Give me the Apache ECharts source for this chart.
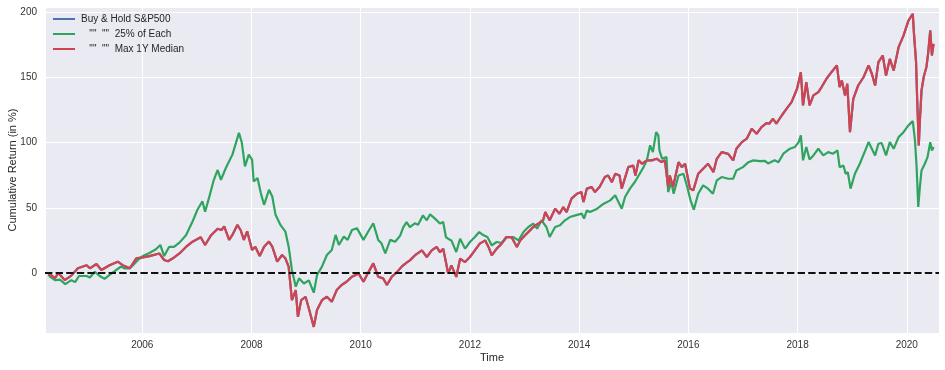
<!DOCTYPE html>
<html>
<head>
<meta charset="utf-8">
<script src="https://cdn.jsdelivr.net/npm/echarts@6/dist/echarts.min.js"></script>
<style>html,body{margin:0;padding:0;background:#fff;}#c{width:945px;height:370px;}</style>
</head>
<body>
<div id="c"></div>
<script>
// ---- data (decimal years, cumulative return in %) ----
const seriesNames = ["Buy & Hold S&P500", '   ""  ""  25% of Each', '   ""  ""  Max 1Y Median'];
const xTickYears = [2006, 2008, 2010, 2012, 2014, 2016, 2018, 2020];
const yTickValues = [0, 50, 100, 150, 200];

const eachTime = [2004.28,2004.31,2004.40,2004.49,2004.59,2004.70,2004.77,2004.84,2004.98,2005.04,2005.13,2005.22,2005.31,2005.40,2005.52,2005.61,2005.67,2005.77,2005.83,2005.92,2006.01,2006.13,2006.25,2006.33,2006.40,2006.49,2006.58,2006.68,2006.80,2006.92,2007.01,2007.10,2007.15,2007.22,2007.31,2007.38,2007.44,2007.53,2007.65,2007.77,2007.82,2007.88,2007.95,2008.01,2008.04,2008.11,2008.17,2008.23,2008.32,2008.38,2008.44,2008.53,2008.62,2008.68,2008.74,2008.81,2008.87,2008.96,2009.05,2009.14,2009.20,2009.29,2009.38,2009.47,2009.54,2009.60,2009.69,2009.76,2009.84,2009.93,2010.05,2010.14,2010.23,2010.32,2010.38,2010.45,2010.54,2010.63,2010.72,2010.78,2010.84,2010.90,2010.99,2011.05,2011.14,2011.21,2011.27,2011.36,2011.45,2011.51,2011.56,2011.60,2011.66,2011.75,2011.82,2011.91,2012.00,2012.09,2012.17,2012.25,2012.32,2012.40,2012.49,2012.58,2012.67,2012.79,2012.89,2012.98,2013.07,2013.16,2013.23,2013.31,2013.40,2013.46,2013.56,2013.65,2013.74,2013.83,2013.93,2014.05,2014.09,2014.14,2014.20,2014.33,2014.45,2014.57,2014.66,2014.78,2014.84,2014.93,2015.02,2015.09,2015.18,2015.24,2015.30,2015.35,2015.41,2015.45,2015.47,2015.52,2015.60,2015.63,2015.69,2015.73,2015.82,2015.91,2015.98,2016.04,2016.10,2016.18,2016.27,2016.36,2016.45,2016.52,2016.61,2016.73,2016.82,2016.88,2017.00,2017.10,2017.19,2017.31,2017.40,2017.46,2017.58,2017.65,2017.74,2017.86,2017.95,2018.02,2018.06,2018.10,2018.16,2018.22,2018.29,2018.38,2018.47,2018.56,2018.65,2018.73,2018.77,2018.84,2018.88,2018.92,2018.97,2019.05,2019.14,2019.24,2019.30,2019.36,2019.42,2019.48,2019.54,2019.62,2019.69,2019.76,2019.85,2019.94,2020.03,2020.11,2020.15,2020.18,2020.21,2020.24,2020.27,2020.33,2020.38,2020.43,2020.46,2020.49];
const eachValue = [-1,-2.8,-5.4,-5,-8.5,-5.5,-7,-2.3,-2.3,-3.5,1,-2.3,-4.5,-1.5,2.3,4.9,3.6,3.6,6,10,13,15.4,18.2,21.5,13,20,20,23.3,29,39.5,48.5,55,47,57.4,71.5,79,71.5,80.5,90.8,107.5,100.5,81.8,90.8,87,70.2,72.8,61.3,52.3,63.8,58.7,44.6,36.9,31.8,20.2,2.3,-10.5,-4.1,-8,-5.6,-15.1,-1.5,4.9,13.8,17.7,29.2,21.5,27.9,25.4,33,34.4,25.4,32,38.2,25.4,22.8,15.1,25.4,24,28.5,35.2,39.1,35.2,38.1,37,44.2,40.4,45,41.7,37.9,39.1,27.6,26.3,25,16.1,26.3,18.7,23.8,27.6,31.4,28.9,27.6,21.2,23.8,23,27.6,27.6,25,31.4,35.3,37.9,34,40.4,35.3,27.6,35.3,36.6,40.4,42.9,44.2,45.5,41.7,48,46.8,49.3,53.2,55.7,59.6,49.3,58.3,64.7,69.8,74.8,81.2,86.4,97.9,92.7,108,105.5,94,87.6,89,62.1,69.8,60.8,74.8,76.1,66,55.7,48.6,60.8,67.2,64.7,60.8,71,73.6,72.3,72.3,78.7,81.2,85,86.4,85.8,86,84,86.4,85,91.5,95.3,96.6,100.4,105.5,86.4,96.6,87,90.2,95.3,90.2,92.7,91.5,94,81.2,82.5,76.1,77.4,64.7,76.1,83.8,94,100.4,95.3,90.2,99.1,99.7,90.2,100.4,95.3,104.2,108,113.2,116.5,101.7,81.2,50.6,66,78.7,83.8,88.9,100.4,94,96.6];

const medianTime = [2004.28,2004.31,2004.40,2004.46,2004.58,2004.70,2004.82,2004.98,2005.04,2005.16,2005.25,2005.40,2005.55,2005.64,2005.77,2005.89,2006.01,2006.13,2006.31,2006.40,2006.47,2006.56,2006.68,2006.80,2006.92,2007.07,2007.15,2007.26,2007.38,2007.45,2007.50,2007.59,2007.65,2007.74,2007.80,2007.86,2007.92,2008.01,2008.07,2008.15,2008.23,2008.32,2008.38,2008.47,2008.56,2008.62,2008.68,2008.74,2008.81,2008.85,2008.91,2008.99,2009.05,2009.14,2009.20,2009.29,2009.38,2009.47,2009.56,2009.65,2009.74,2009.84,2009.96,2010.05,2010.14,2010.23,2010.32,2010.41,2010.48,2010.57,2010.66,2010.75,2010.84,2010.90,2010.99,2011.12,2011.21,2011.30,2011.39,2011.45,2011.51,2011.56,2011.60,2011.66,2011.75,2011.82,2011.91,2012.00,2012.09,2012.18,2012.28,2012.34,2012.40,2012.49,2012.58,2012.67,2012.76,2012.86,2012.92,2013.01,2013.10,2013.16,2013.25,2013.34,2013.38,2013.46,2013.56,2013.64,2013.71,2013.77,2013.86,2013.96,2014.04,2014.08,2014.14,2014.23,2014.29,2014.38,2014.47,2014.53,2014.60,2014.66,2014.74,2014.78,2014.90,2014.99,2015.03,2015.09,2015.15,2015.24,2015.33,2015.42,2015.51,2015.57,2015.63,2015.66,2015.72,2015.82,2015.88,2015.94,2016.00,2016.03,2016.09,2016.18,2016.27,2016.36,2016.42,2016.46,2016.52,2016.61,2016.73,2016.82,2016.88,2016.98,2017.07,2017.16,2017.25,2017.34,2017.43,2017.48,2017.55,2017.61,2017.71,2017.80,2017.89,2017.99,2018.06,2018.10,2018.16,2018.22,2018.29,2018.38,2018.44,2018.53,2018.62,2018.72,2018.77,2018.81,2018.87,2018.91,2018.96,2019.02,2019.11,2019.21,2019.30,2019.36,2019.42,2019.48,2019.56,2019.62,2019.69,2019.76,2019.85,2019.94,2020.03,2020.11,2020.13,2020.17,2020.19,2020.22,2020.24,2020.27,2020.31,2020.36,2020.39,2020.43,2020.46,2020.49];
const medianValue = [0,-1,-4,0,-5.4,-2,3.6,6,3.6,6.9,2.3,6,8.7,6,3.6,11.3,12,13,15,10,9,11.3,15,20,24,27.4,21.5,29,34,33,35.7,25.4,29.2,36.9,33,25.4,32,17.7,20.2,13.1,20.2,24.1,20.2,8.7,13.8,11.3,4.9,-20.8,-13.1,-33.6,-20.8,-18.2,-27.2,-41.3,-28.4,-20.8,-18.2,-22.1,-13.1,-9.2,-6.7,-2.8,-0.3,-6.7,0.5,7.4,-2.8,-4.1,-9.2,-2.8,0.5,4.9,8,9.7,13.5,17.4,12.3,17.4,20,16,18.7,8.4,-0.5,5.9,-3,11,8.4,12.3,17.4,22.5,25,20,13.6,18.7,22.5,27.6,27.6,20,25,28.9,32.7,35.3,37.9,40.4,46.7,40.4,49.3,45.5,50.6,46.7,57,60.8,62.1,54.5,64.7,65.9,62.1,66.4,73.6,74.8,69.7,76.1,74.8,64.7,81.2,82.5,74.8,86.4,83.8,86.4,86.4,87.6,85.1,86.4,66,74.8,66,85,81.2,83.8,71,64.7,63.4,76.1,80,83.8,80,77.4,87.6,92.7,91.4,86.4,95.3,100.4,103,110.6,106.8,111.9,115,114.5,118.3,114.5,120.8,126,131.1,141.3,154,128.5,146.4,128.5,136.2,138.7,142.6,149,154,159.2,142.6,147.7,136.2,145.1,108,133.6,143.8,150.3,159.2,152.8,143.8,161.7,166.8,151.5,164.2,155.3,173.2,182.1,193.6,198.8,184.7,161.7,133.6,97.9,117,140,150.3,158,168,186,166.8,175.7];

// Buy & Hold is drawn underneath and fully covered by the Max 1Y Median line
const buyHoldTime = medianTime;
const buyHoldValue = medianValue;

const xMin = 2004.218, xMax = 2020.59;
const yMin = -46, yMax = 204;

function pairs(t, v) { return t.map((x, i) => [x, v[i]]); }

const chart = echarts.init(document.getElementById('c'), null, {renderer: 'canvas'});
const font = 'Liberation Sans, Arial, sans-serif';
const isTick = (v, list) => list.some(t => Math.abs(t - v) < 1e-6);

chart.setOption({
  animation: false,
  backgroundColor: '#ffffff',
  grid: {left: 45, right: 6, top: 7, bottom: 37, containLabel: false, outerBoundsMode: 'none',
         show: true, backgroundColor: '#EAEAF2', borderWidth: 0},
  legend: {
    show: true, orient: 'vertical', left: 48, top: 8, itemWidth: 22, itemHeight: 2, itemGap: 3,
    icon: 'rect',
    textStyle: {fontFamily: font, fontSize: 10, color: '#262626', lineHeight: 12, padding: [0,0,0,1]},
    data: seriesNames
  },
  xAxis: {
    type: 'value', min: xMin, max: xMax, splitNumber: 8, minInterval: 2, maxInterval: 2,
    axisLine: {show: false}, axisTick: {show: false},
    splitLine: {show: true, lineStyle: {color: '#ffffff', width: 1}},
    axisLabel: {fontFamily: font, fontSize: 10, color: '#333', margin: 7,
      showMinLabel: false, showMaxLabel: false,
      formatter: v => isTick(v, xTickYears) ? String(Math.round(v)) : ''},
    name: 'Time', nameLocation: 'middle', nameGap: 19, nameMoveOverlap: false,
    nameTextStyle: {fontFamily: font, fontSize: 11, color: '#262626'}
  },
  yAxis: {
    type: 'value', min: yMin, max: yMax, splitNumber: 5, minInterval: 50, maxInterval: 50,
    axisLine: {show: false}, axisTick: {show: false},
    splitLine: {show: true, lineStyle: {color: '#ffffff', width: 1}},
    axisLabel: {fontFamily: font, fontSize: 10, color: '#333', margin: 8,
      showMinLabel: false, showMaxLabel: false,
      formatter: v => isTick(v, yTickValues) ? String(Math.round(v)) : ''},
    name: 'Cumulative Return (in %)', nameLocation: 'middle', nameGap: 27, nameRotate: 90, nameMoveOverlap: false,
    nameTextStyle: {fontFamily: font, fontSize: 11, color: '#262626'}
  },
  series: [
    {name: seriesNames[0], type: 'line', showSymbol: false, symbol: 'none', data: pairs(buyHoldTime, buyHoldValue),
     lineStyle: {color: '#4C72B0', width: 2.2}, itemStyle: {color: '#4C72B0'}, z: 2},
    {name: seriesNames[1], type: 'line', showSymbol: false, symbol: 'none', data: pairs(eachTime, eachValue),
     lineStyle: {color: '#2FA45F', width: 2.2}, itemStyle: {color: '#2FA45F'}, z: 3},
    {name: seriesNames[2], type: 'line', showSymbol: false, symbol: 'none', data: pairs(medianTime, medianValue),
     lineStyle: {color: '#D1444F', width: 2.2}, itemStyle: {color: '#D1444F'}, z: 4,
     markLine: {silent: true, symbol: ['none', 'none'], label: {show: false},
       lineStyle: {color: '#111', width: 2, type: [7.4, 3.2]},
       data: [{yAxis: 0}]}}
  ]
});
</script>
</body>
</html>
